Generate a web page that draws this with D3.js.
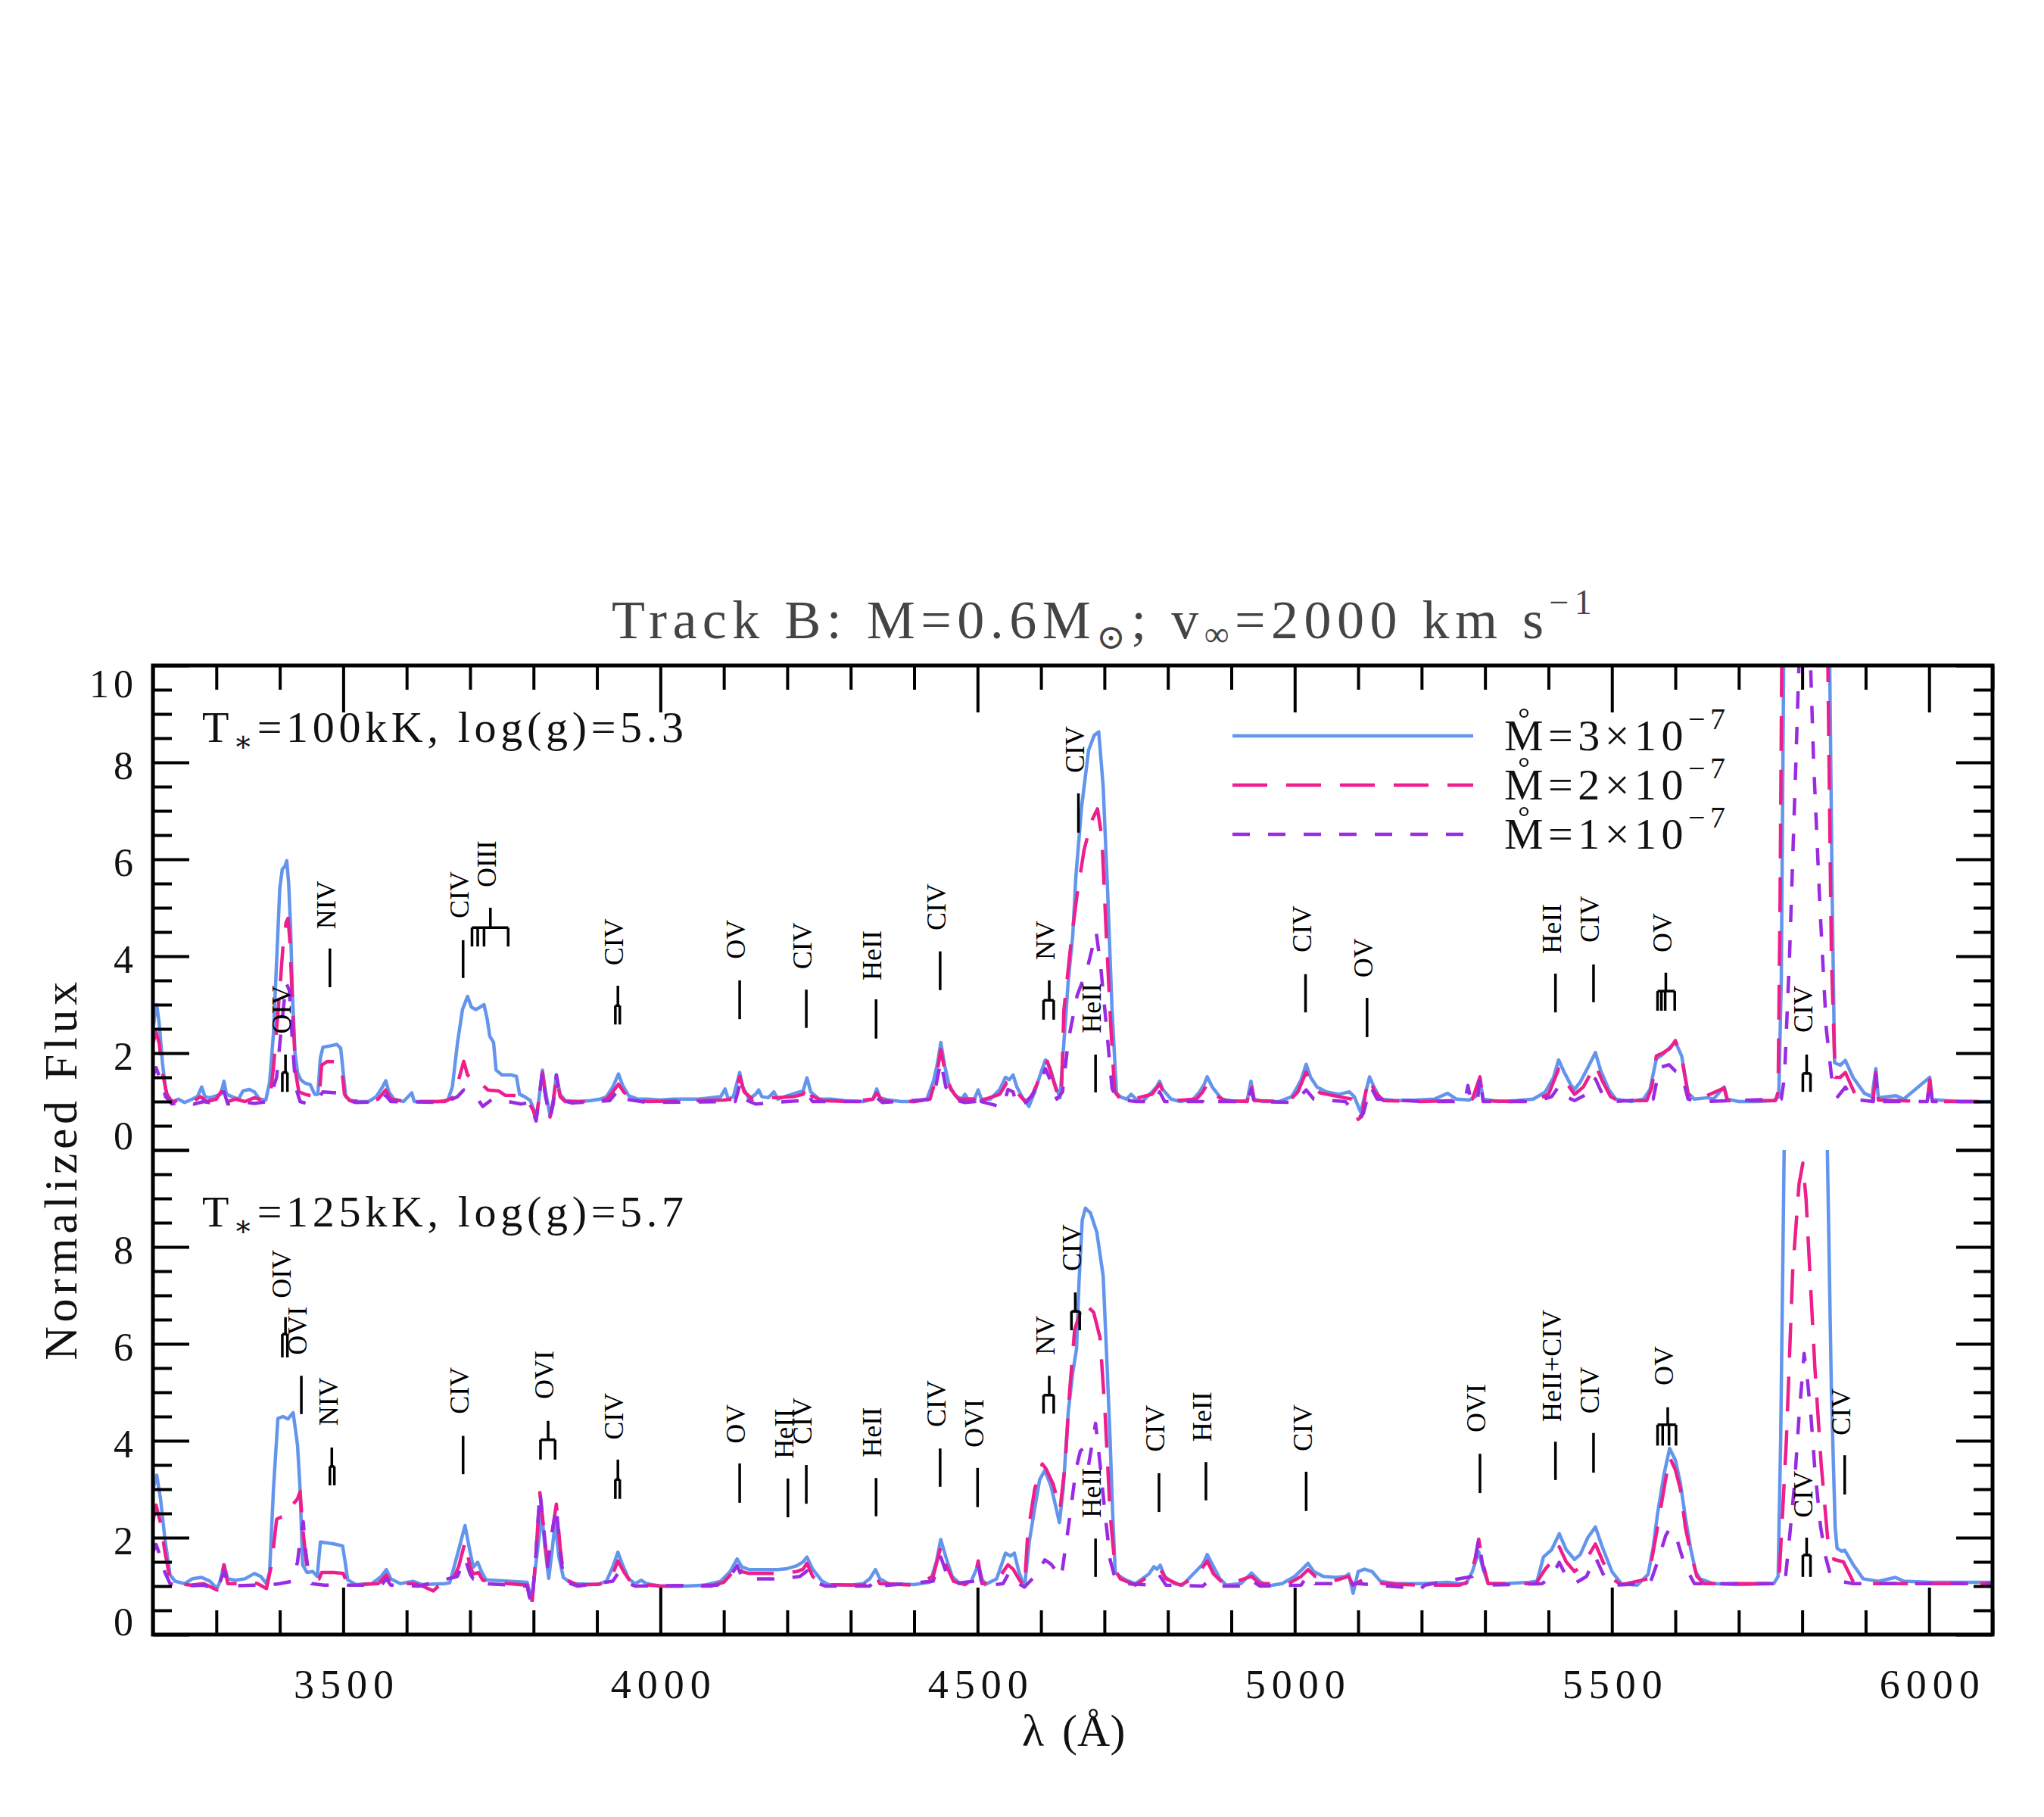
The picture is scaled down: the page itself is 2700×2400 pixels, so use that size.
<!DOCTYPE html>
<html>
<head>
<meta charset="utf-8">
<script src="https://cdn.jsdelivr.net/npm/d3@7"></script>
<style>
  body { margin: 0; background: #fff; }
  text { font-family: "Liberation Serif", "DejaVu Serif", serif; }
</style>
</head>
<body>
<div id="chart"></div>
<script>
// ---- data: [wavelength (A), normalized flux] ----
var top3 = [[3200,2.45],[3203,2.8],[3206,3.0],[3210,2.6],[3215,1.8],[3220,1.25],[3225,1.05],[3232,1.0],[3240,1.05],[3250,0.98],[3262,1.05],[3270,1.1],[3277,1.3],[3282,1.1],[3290,1.08],[3300,1.12],[3307,1.15],[3312,1.42],[3316,1.15],[3325,1.1],[3335,1.05],[3342,1.22],[3352,1.25],[3360,1.2],[3368,1.05],[3378,1.03],[3384,1.4],[3390,2.4],[3395,3.9],[3400,5.4],[3404,5.8],[3408,5.85],[3411,5.97],[3414,5.5],[3417,4.6],[3420,3.2],[3424,2.0],[3428,1.6],[3433,1.45],[3440,1.38],[3448,1.35],[3455,1.15],[3460,1.15],[3464,1.9],[3468,2.12],[3480,2.15],[3490,2.18],[3496,2.1],[3500,1.6],[3504,1.1],[3512,1.02],[3525,1.0],[3540,1.0],[3552,1.1],[3562,1.3],[3567,1.43],[3572,1.2],[3580,1.05],[3595,1.0],[3608,1.18],[3612,1.0],[3630,1.0],[3650,1.0],[3665,1.03],[3672,1.3],[3680,2.2],[3688,2.9],[3696,3.17],[3702,2.95],[3709,2.9],[3716,2.95],[3722,3.0],[3727,2.7],[3731,2.35],[3737,2.22],[3741,1.65],[3750,1.55],[3765,1.55],[3773,1.52],[3778,1.15],[3786,1.1],[3795,1.02],[3800,0.85],[3804,0.66],[3808,1.0],[3814,1.65],[3819,1.2],[3826,0.71],[3831,1.0],[3836,1.55],[3842,1.15],[3850,1.02],[3870,1.0],[3890,1.02],[3905,1.05],[3915,1.1],[3925,1.3],[3934,1.57],[3940,1.35],[3950,1.12],[3965,1.05],[3980,1.05],[4000,1.03],[4020,1.05],[4040,1.05],[4060,1.05],[4080,1.08],[4095,1.1],[4102,1.26],[4107,1.05],[4115,1.1],[4125,1.6],[4130,1.3],[4140,1.05],[4150,1.15],[4155,1.24],[4160,1.1],[4170,1.08],[4179,1.2],[4185,1.05],[4200,1.12],[4215,1.18],[4225,1.22],[4231,1.49],[4237,1.2],[4250,1.05],[4270,1.05],[4290,1.02],[4320,1.0],[4335,1.05],[4341,1.26],[4346,1.08],[4360,1.03],[4380,1.0],[4400,1.0],[4420,1.05],[4430,1.4],[4437,1.8],[4442,2.22],[4448,1.75],[4455,1.35],[4465,1.12],[4475,1.05],[4480,1.15],[4485,1.05],[4495,1.05],[4501,1.24],[4506,1.05],[4520,1.05],[4535,1.25],[4544,1.5],[4550,1.45],[4556,1.55],[4562,1.3],[4570,1.1],[4581,0.9],[4590,1.2],[4600,1.6],[4607,1.86],[4614,1.7],[4622,1.35],[4630,1.08],[4636,2.2],[4643,3.5],[4650,4.42],[4655,5.65],[4664,7.08],[4675,8.25],[4684,8.56],[4691,8.63],[4698,7.5],[4705,5.35],[4712,2.88],[4719,1.18],[4725,1.1],[4735,1.05],[4742,1.15],[4750,1.05],[4760,1.0],[4775,1.2],[4782,1.3],[4787,1.42],[4792,1.25],[4805,1.05],[4820,1.0],[4840,1.05],[4850,1.2],[4857,1.35],[4862,1.51],[4870,1.3],[4885,1.05],[4905,1.0],[4925,1.02],[4931,1.42],[4936,1.05],[4950,1.0],[4975,1.0],[4995,1.1],[5004,1.3],[5010,1.45],[5018,1.77],[5025,1.5],[5035,1.3],[5050,1.2],[5070,1.15],[5086,1.2],[5094,1.1],[5100,0.9],[5104,0.78],[5110,1.1],[5118,1.51],[5125,1.3],[5135,1.05],[5160,1.02],[5190,1.03],[5220,1.05],[5241,1.17],[5255,1.05],[5275,1.03],[5285,1.1],[5292,1.45],[5297,1.05],[5320,1.0],[5350,1.02],[5376,1.05],[5395,1.2],[5408,1.5],[5416,1.86],[5425,1.6],[5435,1.35],[5441,1.25],[5450,1.4],[5462,1.7],[5474,2.01],[5482,1.65],[5495,1.25],[5506,1.05],[5530,1.0],[5550,1.05],[5560,1.25],[5570,1.88],[5580,1.97],[5590,2.1],[5600,2.23],[5610,1.94],[5620,1.18],[5630,1.05],[5652,1.08],[5660,1.05],[5677,1.3],[5682,1.05],[5700,1.0],[5730,1.0],[5755,1.02],[5763,1.1],[5767,3.5],[5771,10.5],[5843,10.5],[5847,5.5],[5851,1.8],[5860,1.75],[5868,1.85],[5880,1.5],[5898,1.17],[5910,1.1],[5916,1.68],[5920,1.08],[5948,1.12],[5960,1.05],[6001,1.5],[6005,1.04],[6050,1.0],[6100,1.0]];

var top2 = [[3200,2.2],[3205,2.43],[3210,2.2],[3215,1.6],[3222,1.15],[3230,1.0],[3245,1.02],[3260,0.98],[3275,1.1],[3285,1.0],[3300,1.05],[3312,1.3],[3318,1.0],[3330,1.05],[3345,1.0],[3360,1.08],[3375,1.02],[3385,1.1],[3390,1.7],[3395,2.5],[3400,3.3],[3405,4.2],[3410,4.7],[3413,4.78],[3416,4.3],[3420,3.0],[3425,1.6],[3430,1.2],[3440,1.15],[3455,1.1],[3462,1.1],[3466,1.75],[3475,1.83],[3490,1.82],[3497,1.75],[3502,1.15],[3510,1.02],[3530,1.0],[3555,1.05],[3567,1.24],[3575,1.05],[3600,1.0],[3625,1.0],[3660,1.0],[3675,1.1],[3683,1.5],[3690,1.83],[3696,1.55],[3703,1.45],[3710,1.47],[3720,1.34],[3728,1.24],[3745,1.22],[3755,1.13],[3780,1.12],[3790,1.05],[3800,0.8],[3804,0.62],[3808,1.0],[3814,1.6],[3819,1.1],[3826,0.68],[3831,1.0],[3836,1.5],[3842,1.1],[3850,1.0],[3900,1.0],[3915,1.05],[3925,1.2],[3934,1.36],[3942,1.2],[3955,1.05],[3980,1.0],[4050,1.02],[4100,1.03],[4115,1.05],[4125,1.52],[4132,1.2],[4145,1.05],[4160,1.1],[4180,1.08],[4210,1.1],[4225,1.15],[4231,1.36],[4238,1.12],[4255,1.02],[4300,1.0],[4335,1.05],[4341,1.18],[4350,1.02],[4400,1.0],[4425,1.05],[4435,1.5],[4442,2.07],[4449,1.6],[4458,1.25],[4470,1.05],[4496,1.05],[4501,1.24],[4506,1.02],[4535,1.15],[4546,1.39],[4556,1.4],[4565,1.15],[4575,1.0],[4585,1.1],[4598,1.5],[4610,1.83],[4618,1.5],[4626,1.15],[4632,1.08],[4636,2.88],[4648,4.36],[4657,5.28],[4668,6.2],[4680,6.8],[4689,7.04],[4696,6.45],[4703,4.42],[4710,2.57],[4716,1.21],[4725,1.05],[4745,1.05],[4775,1.15],[4787,1.36],[4795,1.15],[4810,1.02],[4845,1.05],[4855,1.2],[4862,1.36],[4872,1.15],[4890,1.02],[4925,1.0],[4931,1.39],[4936,1.02],[4990,1.0],[5005,1.2],[5018,1.61],[5026,1.35],[5040,1.18],[5070,1.1],[5090,1.05],[5100,0.63],[5106,0.7],[5112,1.2],[5118,1.48],[5126,1.2],[5140,1.02],[5200,1.0],[5250,1.02],[5280,1.05],[5292,1.51],[5297,1.02],[5340,1.0],[5380,1.03],[5400,1.15],[5416,1.67],[5425,1.45],[5441,1.15],[5455,1.3],[5474,1.76],[5484,1.45],[5498,1.1],[5510,1.02],[5555,1.02],[5563,1.3],[5570,1.94],[5580,2.0],[5592,2.1],[5600,2.26],[5610,1.9],[5620,1.15],[5632,1.02],[5677,1.28],[5682,1.02],[5758,1.02],[5762,1.2],[5765,5.0],[5768,10.5],[5840,10.5],[5846,4.0],[5852,1.5],[5860,1.5],[5868,1.6],[5885,1.1],[5912,1.05],[5916,1.6],[5920,1.03],[5997,1.0],[6001,1.45],[6005,1.0],[6100,1.0]];

var top1 = [[3200,1.52],[3205,1.7],[3212,1.45],[3220,1.1],[3230,0.95],[3250,1.0],[3265,0.95],[3280,1.0],[3300,0.95],[3312,1.2],[3318,0.95],[3340,1.0],[3360,0.96],[3380,1.0],[3390,1.3],[3395,1.5],[3403,2.6],[3410,3.45],[3415,3.3],[3420,2.2],[3425,1.3],[3432,1.0],[3445,0.95],[3460,1.05],[3468,1.2],[3490,1.18],[3500,1.05],[3520,0.98],[3560,1.0],[3567,1.13],[3575,1.0],[3660,0.98],[3680,1.1],[3690,1.24],[3700,1.12],[3712,1.05],[3720,0.9],[3735,1.05],[3760,1.0],[3780,0.95],[3795,0.98],[3800,0.75],[3804,0.6],[3808,1.0],[3814,1.62],[3819,1.1],[3826,0.65],[3831,0.95],[3836,1.55],[3842,1.05],[3860,0.97],[3920,1.02],[3934,1.24],[3945,1.05],[3980,0.98],[4100,1.0],[4118,1.0],[4125,1.34],[4132,1.05],[4150,0.95],[4200,1.0],[4225,1.02],[4231,1.17],[4240,1.0],[4300,1.0],[4335,1.0],[4341,1.08],[4350,0.98],[4430,1.05],[4442,1.83],[4450,1.3],[4460,1.05],[4480,0.98],[4496,1.0],[4501,1.2],[4506,1.0],[4540,0.88],[4548,1.25],[4556,1.2],[4562,0.9],[4578,1.0],[4595,1.3],[4607,1.68],[4616,1.4],[4625,1.05],[4634,1.2],[4643,2.26],[4657,3.19],[4673,3.75],[4687,4.5],[4694,3.8],[4703,2.57],[4712,1.27],[4720,1.05],[4750,1.0],[4780,1.0],[4787,1.2],[4795,1.0],[4855,1.0],[4862,0.9],[4870,1.0],[4925,1.0],[4931,1.25],[4936,1.0],[5000,0.98],[5018,1.24],[5030,1.05],[5080,1.0],[5100,0.66],[5108,0.75],[5115,1.1],[5120,1.3],[5130,1.05],[5200,1.0],[5268,1.0],[5273,1.33],[5278,1.0],[5288,1.0],[5292,1.51],[5297,1.0],[5380,1.0],[5405,1.1],[5416,1.31],[5428,1.1],[5441,1.02],[5460,1.15],[5474,1.47],[5485,1.15],[5500,1.0],[5565,1.05],[5575,1.7],[5590,1.76],[5600,1.63],[5610,1.57],[5620,1.05],[5640,1.0],[5767,1.05],[5772,1.5],[5780,4.0],[5790,8.0],[5796,10.5],[5812,10.5],[5818,8.0],[5828,5.0],[5838,2.5],[5848,1.3],[5856,1.1],[5868,1.3],[5880,1.05],[5912,1.0],[5916,1.55],[5920,1.0],[5997,1.0],[6001,1.4],[6005,1.0],[6100,1.0]];

var bot3 = [[3200,2.99],[3206,3.29],[3212,2.8],[3219,1.96],[3227,1.23],[3235,1.1],[3250,1.05],[3262,1.15],[3277,1.18],[3290,1.1],[3301,0.95],[3306,1.1],[3312,1.44],[3318,1.15],[3330,1.12],[3345,1.15],[3360,1.26],[3370,1.2],[3379,1.05],[3384,1.3],[3390,3.0],[3397,4.46],[3405,4.5],[3413,4.45],[3421,4.58],[3425,4.2],[3428,3.9],[3432,3.0],[3436,1.44],[3443,1.28],[3452,1.3],[3459,1.2],[3464,1.91],[3470,1.9],[3485,1.87],[3499,1.83],[3503,1.5],[3507,1.13],[3520,1.03],[3545,1.05],[3560,1.2],[3568,1.34],[3575,1.15],[3590,1.05],[3610,1.1],[3625,1.03],[3660,1.05],[3668,1.07],[3680,1.65],[3692,2.25],[3700,1.7],[3705,1.39],[3712,1.49],[3718,1.3],[3725,1.13],[3760,1.1],[3790,1.08],[3797,0.71],[3805,1.6],[3813,2.49],[3818,1.8],[3824,1.16],[3829,1.7],[3834,2.31],[3840,1.6],[3847,1.18],[3860,1.05],[3900,1.03],[3915,1.1],[3925,1.4],[3933,1.7],[3940,1.45],[3950,1.15],[3960,1.05],[3970,1.12],[3978,1.05],[4000,1.0],[4040,1.0],[4070,1.02],[4095,1.1],[4110,1.3],[4121,1.56],[4128,1.4],[4140,1.34],[4160,1.34],[4185,1.34],[4200,1.36],[4215,1.42],[4225,1.5],[4231,1.6],[4240,1.35],[4255,1.1],[4265,1.03],[4300,1.02],[4320,1.05],[4330,1.15],[4339,1.34],[4346,1.15],[4360,1.05],[4400,1.03],[4425,1.08],[4435,1.5],[4442,1.96],[4450,1.6],[4460,1.2],[4472,1.05],[4490,1.1],[4501,1.44],[4507,1.15],[4512,1.03],[4530,1.15],[4544,1.68],[4552,1.62],[4558,1.68],[4565,1.3],[4574,0.98],[4582,1.96],[4590,2.6],[4598,3.2],[4606,3.39],[4616,3.05],[4624,2.6],[4629,2.31],[4635,3.0],[4643,4.6],[4650,5.4],[4656,5.9],[4660,7.3],[4665,8.55],[4670,8.8],[4678,8.7],[4688,8.3],[4698,7.4],[4704,5.6],[4709,4.0],[4713,2.5],[4717,1.3],[4722,1.22],[4735,1.12],[4749,1.05],[4770,1.25],[4778,1.4],[4783,1.35],[4788,1.43],[4795,1.2],[4810,1.05],[4823,1.02],[4840,1.25],[4855,1.45],[4862,1.65],[4870,1.45],[4882,1.15],[4892,1.02],[4915,1.05],[4932,1.27],[4945,1.1],[4956,1.0],[4980,1.05],[5000,1.2],[5012,1.35],[5021,1.47],[5030,1.3],[5045,1.2],[5065,1.18],[5080,1.2],[5085,1.25],[5092,0.85],[5100,1.3],[5110,1.35],[5122,1.3],[5135,1.1],[5160,1.05],[5200,1.05],[5240,1.08],[5260,1.05],[5270,1.05],[5280,1.3],[5290,1.71],[5297,1.35],[5305,1.05],[5330,1.05],[5370,1.08],[5382,1.1],[5392,1.6],[5405,1.75],[5417,2.08],[5428,1.75],[5441,1.55],[5450,1.65],[5462,2.0],[5474,2.22],[5485,1.8],[5500,1.3],[5515,1.05],[5540,1.02],[5557,1.24],[5565,1.8],[5572,2.5],[5582,3.3],[5591,3.84],[5600,3.6],[5608,3.12],[5616,2.4],[5624,1.78],[5632,1.3],[5639,1.15],[5660,1.05],[5700,1.03],[5755,1.05],[5762,1.2],[5766,4.0],[5772,10.5],[5839,10.5],[5846,5.0],[5852,2.2],[5855,1.78],[5862,1.72],[5867,1.74],[5880,1.45],[5896,1.15],[5920,1.1],[5947,1.18],[5960,1.1],[6000,1.08],[6050,1.08],[6100,1.08]];

var bot2 = [[3200,2.33],[3205,2.67],[3212,2.3],[3219,1.7],[3227,1.15],[3240,1.05],[3260,1.02],[3280,1.05],[3301,0.92],[3306,1.05],[3312,1.44],[3318,1.05],[3335,1.05],[3350,1.1],[3365,1.05],[3379,0.95],[3387,1.44],[3395,2.38],[3403,2.43],[3411,2.45],[3421,2.69],[3428,2.8],[3432,2.95],[3436,2.22],[3443,1.34],[3452,1.2],[3462,1.15],[3466,1.28],[3485,1.28],[3500,1.26],[3505,1.1],[3520,1.03],[3555,1.05],[3568,1.23],[3575,1.05],[3610,1.05],[3625,1.0],[3642,0.9],[3650,1.0],[3670,1.05],[3682,1.4],[3692,1.91],[3700,1.4],[3705,1.25],[3713,1.28],[3720,1.12],[3760,1.05],[3790,1.02],[3797,0.53],[3803,1.5],[3810,2.93],[3816,2.2],[3822,1.44],[3828,2.0],[3836,2.69],[3842,1.8],[3848,1.15],[3870,1.02],[3915,1.05],[3925,1.25],[3933,1.52],[3942,1.3],[3955,1.05],[4000,1.0],[4080,1.0],[4100,1.08],[4115,1.3],[4121,1.47],[4128,1.3],[4140,1.26],[4190,1.26],[4215,1.3],[4225,1.35],[4231,1.47],[4240,1.2],[4258,1.03],[4320,1.02],[4332,1.1],[4339,1.23],[4346,1.05],[4400,1.02],[4430,1.2],[4442,1.81],[4450,1.45],[4462,1.1],[4480,1.03],[4495,1.15],[4501,1.52],[4507,1.05],[4530,1.1],[4548,1.44],[4556,1.35],[4565,1.15],[4574,0.98],[4579,2.07],[4590,3.0],[4602,3.52],[4608,3.42],[4619,3.11],[4630,2.59],[4638,3.5],[4645,5.0],[4653,6.29],[4667,6.86],[4675,6.75],[4683,6.65],[4693,6.13],[4701,4.57],[4709,2.49],[4717,1.34],[4725,1.15],[4749,1.02],[4775,1.25],[4788,1.35],[4797,1.15],[4820,1.02],[4845,1.2],[4862,1.52],[4872,1.25],[4890,1.02],[4932,1.2],[4945,1.05],[4990,1.05],[5010,1.2],[5021,1.34],[5032,1.2],[5060,1.1],[5085,1.2],[5092,1.02],[5110,1.15],[5140,1.05],[5200,1.02],[5260,1.02],[5275,1.1],[5285,1.6],[5290,1.97],[5296,1.5],[5305,1.05],[5380,1.05],[5395,1.35],[5405,1.5],[5417,1.81],[5428,1.5],[5441,1.3],[5455,1.45],[5474,1.87],[5486,1.5],[5500,1.15],[5515,1.03],[5557,1.15],[5565,1.7],[5572,2.22],[5582,3.0],[5591,3.66],[5600,3.4],[5608,3.0],[5616,2.2],[5624,1.7],[5634,1.2],[5645,1.05],[5760,1.05],[5764,1.3],[5767,2.0],[5775,4.0],[5785,7.5],[5795,9.3],[5801,9.73],[5806,9.0],[5812,7.5],[5820,5.5],[5830,3.5],[5840,2.0],[5850,1.55],[5865,1.5],[5880,1.1],[5900,1.05],[6100,1.05]];

var bot1 = [[3200,1.7],[3205,1.86],[3212,1.6],[3219,1.28],[3227,1.05],[3250,1.0],[3280,1.02],[3301,0.92],[3312,1.3],[3320,1.0],[3360,1.02],[3380,1.02],[3400,1.05],[3420,1.1],[3428,1.5],[3432,1.96],[3437,2.33],[3441,1.7],[3445,1.3],[3450,1.05],[3470,1.02],[3500,1.02],[3560,1.02],[3568,1.15],[3575,1.02],[3620,1.0],[3680,1.2],[3692,1.57],[3700,1.25],[3705,1.15],[3715,1.2],[3725,1.05],[3790,1.0],[3797,0.6],[3803,1.5],[3810,2.96],[3816,2.2],[3822,1.4],[3828,2.0],[3836,2.64],[3842,1.7],[3848,1.1],[3870,1.0],[3925,1.1],[3933,1.26],[3942,1.1],[3960,1.0],[4090,1.02],[4110,1.2],[4121,1.42],[4128,1.2],[4140,1.15],[4190,1.15],[4220,1.2],[4231,1.31],[4240,1.1],[4260,1.0],[4330,1.0],[4339,1.12],[4346,1.0],[4430,1.1],[4442,1.6],[4450,1.3],[4462,1.05],[4495,1.1],[4501,1.45],[4507,1.0],[4540,1.05],[4550,1.28],[4558,1.2],[4565,1.05],[4574,0.98],[4590,1.2],[4606,1.54],[4616,1.45],[4625,1.3],[4632,1.18],[4646,2.49],[4655,3.4],[4662,3.79],[4667,3.84],[4675,3.5],[4686,4.36],[4693,3.53],[4701,2.49],[4709,1.54],[4717,1.15],[4730,1.05],[4780,1.02],[4788,1.2],[4797,1.02],[4855,1.0],[4862,1.08],[4870,1.0],[4925,1.0],[4932,1.12],[4945,1.0],[5010,1.02],[5021,1.23],[5032,1.05],[5100,1.05],[5199,0.95],[5205,1.02],[5280,1.2],[5290,1.97],[5296,1.45],[5305,1.02],[5390,1.05],[5405,1.2],[5417,1.49],[5428,1.2],[5441,1.05],[5460,1.2],[5474,1.6],[5486,1.25],[5500,1.02],[5560,1.05],[5572,1.5],[5585,2.05],[5591,2.18],[5600,2.07],[5615,1.42],[5630,1.05],[5770,1.05],[5773,1.1],[5780,2.0],[5788,3.12],[5795,4.5],[5803,5.8],[5808,5.3],[5814,4.47],[5820,3.4],[5829,2.22],[5837,1.6],[5845,1.2],[5860,1.1],[5880,1.05],[6100,1.05]];

// line identifications: text, wavelength, flux of text start, line top, [bar], line bottom, [comb]
var topIds = [
  { t: "OIV", lam: 3409, ft: 2.4, f1: 1.97, bar: 1.6, f0: 1.2, comb: [3404, 3412] },
  { t: "NIV", lam: 3479, ft: 4.56, f1: 4.16, f0: 3.36 },
  { t: "CIV", lam: 3689, ft: 4.78, f1: 4.33, f0: 3.55 },
  { t: "OIII", lam: 3732, ft: 5.42, f1: 5.0, bar: 4.59, f0: 4.2, comb: [3703, 3712, 3722, 3760] },
  { t: "CIV", lam: 3933, ft: 3.81, f1: 3.39, bar: 2.98, f0: 2.59, comb: [3929, 3936] },
  { t: "OV", lam: 4125, ft: 3.94, f1: 3.5, f0: 2.7 },
  { t: "CIV", lam: 4230, ft: 3.73, f1: 3.31, f0: 2.52 },
  { t: "HeII", lam: 4340, ft: 3.5, f1: 3.11, f0: 2.3 },
  { t: "CIV", lam: 4441, ft: 4.53, f1: 4.1, f0: 3.3 },
  { t: "NV", lam: 4613, ft: 3.92, f1: 3.5, bar: 3.09, f0: 2.69, comb: [4604, 4620] },
  { t: "HeII", lam: 4686, ft: 2.41, f1: 1.97, f0: 1.19 },
  { t: "CIV", lam: 4659, ft: 7.78, f1: 7.36, f0: 6.55 },
  { t: "CIV", lam: 5017, ft: 4.08, f1: 3.63, f0: 2.84 },
  { t: "OV", lam: 5114, ft: 3.56, f1: 3.14, f0: 2.33 },
  { t: "HeII", lam: 5411, ft: 4.05, f1: 3.64, f0: 2.84 },
  { t: "CIV", lam: 5471, ft: 4.28, f1: 3.83, f0: 3.05 },
  { t: "OV", lam: 5585, ft: 4.08, f1: 3.66, bar: 3.28, f0: 2.875, comb: [5572, 5578, 5584, 5599] },
  { t: "CIV", lam: 5807, ft: 2.42, f1: 1.97, bar: 1.58, f0: 1.2, comb: [5801, 5813] }
];
var botIds = [
  { t: "OIV", lam: 3409, ft: 6.94, f1: 6.55, bar: 6.2, f0: 5.72, comb: [3404, 3412] },
  { t: "OVI", lam: 3434, ft: 5.77, f1: 5.34, f0: 4.55 },
  { t: "NIV", lam: 3482, ft: 4.31, f1: 3.86, bar: 3.47, f0: 3.08, comb: [3479, 3486] },
  { t: "CIV", lam: 3689, ft: 4.55, f1: 4.1, f0: 3.31 },
  { t: "OVI", lam: 3823, ft: 4.86, f1: 4.41, bar: 4.02, f0: 3.61, comb: [3811, 3834] },
  { t: "CIV", lam: 3933, ft: 4.02, f1: 3.61, bar: 3.2, f0: 2.8, comb: [3929, 3936] },
  { t: "OV", lam: 4125, ft: 3.94, f1: 3.53, f0: 2.72 },
  { t: "HeII", lam: 4201, ft: 3.63, f1: 3.22, f0: 2.42 },
  { t: "CIV", lam: 4230, ft: 3.92, f1: 3.5, f0: 2.7 },
  { t: "HeII", lam: 4340, ft: 3.66, f1: 3.23, f0: 2.44 },
  { t: "CIV", lam: 4441, ft: 4.28, f1: 3.84, f0: 3.05 },
  { t: "OVI", lam: 4500, ft: 3.86, f1: 3.44, f0: 2.63 },
  { t: "NV", lam: 4613, ft: 5.77, f1: 5.34, bar: 4.94, f0: 4.56, comb: [4604, 4620] },
  { t: "CIV", lam: 4654, ft: 7.5, f1: 7.06, bar: 6.67, f0: 6.28, comb: [4648, 4661] },
  { t: "HeII", lam: 4686, ft: 2.41, f1: 1.98, f0: 1.19 },
  { t: "CIV", lam: 4786, ft: 3.77, f1: 3.33, f0: 2.53 },
  { t: "HeII", lam: 4860, ft: 3.98, f1: 3.56, f0: 2.77 },
  { t: "CIV", lam: 5018, ft: 3.78, f1: 3.36, f0: 2.55 },
  { t: "OVI", lam: 5292, ft: 4.17, f1: 3.73, f0: 2.92 },
  { t: "HeII+CIV", lam: 5411, ft: 4.39, f1: 3.98, f0: 3.19 },
  { t: "CIV", lam: 5471, ft: 4.56, f1: 4.16, f0: 3.34 },
  { t: "OV", lam: 5588, ft: 5.14, f1: 4.69, bar: 4.33, f0: 3.9, comb: [5572, 5580, 5590, 5601] },
  { t: "CIV", lam: 5807, ft: 2.41, f1: 2.0, bar: 1.64, f0: 1.19, comb: [5801, 5813] },
  { t: "CIV", lam: 5867, ft: 4.11, f1: 3.7, f0: 2.89 }
];

var xMajor = [3500, 4000, 4500, 5000, 5500, 6000];
var yLabelsTop = [0, 2, 4, 6, 8, 10];
var yLabelsBot = [0, 2, 4, 6, 8];
var legendText = ["3", "2", "1"];

var colors = ["#6495ED", "#EE1E8C", "#9A2BE2"];
var dashes = [null, "46,25", "23,24"];

// ---- layout ----
var W = 2700, H = 2400;
var L = 202, R = 2632, T = 879, M = 1519, B = 2159;

var svg = d3.select("#chart").append("svg")
    .attr("width", W).attr("height", H)
    .style("background", "#fff");

var x = d3.scaleLinear().domain([3200, 6100]).range([L, R]);
var yTop = d3.scaleLinear().domain([0, 10]).range([M, T]);
var yBot = d3.scaleLinear().domain([0, 10]).range([B, M]);

function fit(sel, width) {
    var n = sel.text().length;
    var w = sel.node().getComputedTextLength();
    sel.attr("letter-spacing", ((width - w) / (n - 1)).toFixed(2));
}

var defs = svg.append("defs");
defs.append("clipPath").attr("id", "clipTop").append("rect")
    .attr("x", L).attr("y", T).attr("width", R - L).attr("height", M - T);
defs.append("clipPath").attr("id", "clipBot").append("rect")
    .attr("x", L).attr("y", M).attr("width", R - L).attr("height", B - M);

// spectra
function drawPanel(series, y, clip) {
    var line = d3.line().x(function (d) { return x(d[0]); }).y(function (d) { return y(d[1]); });
    var g = svg.append("g").attr("clip-path", "url(#" + clip + ")");
    series.forEach(function (s, i) {
        g.append("path")
            .attr("d", line(s))
            .attr("fill", "none")
            .attr("stroke", colors[i])
            .attr("stroke-width", 4.5)
            .attr("stroke-linejoin", "round")
            .attr("stroke-dasharray", dashes[i]);
    });
}
drawPanel([top3, top2, top1], yTop, "clipTop");
drawPanel([bot3, bot2, bot1], yBot, "clipBot");

// line identifications
function drawIds(ids, y) {
    var g = svg.append("g").attr("stroke", "#000").attr("stroke-width", 3.5);
    ids.forEach(function (d) {
        var xs = x(d.lam);
        if (d.comb) {
            g.append("line").attr("x1", xs).attr("x2", xs).attr("y1", y(d.f1)).attr("y2", y(d.bar));
            g.append("line")
                .attr("x1", x(d3.min(d.comb))).attr("x2", x(d3.max(d.comb)))
                .attr("y1", y(d.bar)).attr("y2", y(d.bar));
            d.comb.forEach(function (c) {
                g.append("line").attr("x1", x(c)).attr("x2", x(c)).attr("y1", y(d.bar)).attr("y2", y(d.f0));
            });
        } else {
            g.append("line").attr("x1", xs).attr("x2", xs).attr("y1", y(d.f1)).attr("y2", y(d.f0));
        }
        var tx = xs - 5, ty = y(d.ft);
        svg.append("text")
            .attr("transform", "translate(" + tx + "," + ty + ") rotate(-90)")
            .attr("dy", "0.34em")
            .attr("font-size", 36)
            .attr("fill", "#000")
            .text(d.t);
    });
}
drawIds(topIds, yTop);
drawIds(botIds, yBot);

// frame
svg.append("rect")
    .attr("x", L).attr("y", T).attr("width", R - L).attr("height", B - T)
    .attr("fill", "none").attr("stroke", "#000").attr("stroke-width", 5);

// x axes (bottom and top), ticks pointing inwards
var xMinor = d3.range(3200, 6101, 100).filter(function (v) { return xMajor.indexOf(v) < 0; });

function tickStyle(g) {
    g.select(".domain").remove();
    g.selectAll(".tick line").attr("stroke", "#000").attr("stroke-width", 4);
}

svg.append("g").attr("transform", "translate(0," + B + ")")
    .call(d3.axisBottom(x).tickValues(xMinor).tickSize(-32).tickFormat(""))
    .call(tickStyle);
var xb = svg.append("g").attr("transform", "translate(0," + B + ")")
    .call(d3.axisBottom(x).tickValues(xMajor).tickSize(-62).tickPadding(0).tickFormat(d3.format("d")))
    .call(tickStyle);
xb.selectAll(".tick text")
    .attr("y", 84).attr("dy", 0)
    .attr("font-size", 54).attr("font-family", "Liberation Serif")
    .attr("fill", "#111").attr("letter-spacing", 8).attr("dx", 4);

svg.append("g").attr("transform", "translate(0," + T + ")")
    .call(d3.axisTop(x).tickValues(xMinor).tickSize(-32).tickFormat(""))
    .call(tickStyle);
svg.append("g").attr("transform", "translate(0," + T + ")")
    .call(d3.axisTop(x).tickValues(xMajor).tickSize(-62).tickFormat(""))
    .call(tickStyle);

// y axes: each panel spans flux 0..10
var yMinor = d3.range(0, 10.01, 0.5).filter(function (v) { return v % 2 !== 0; });
var yMajor = [0, 2, 4, 6, 8, 10];

[yTop, yBot].forEach(function (y) {
    svg.append("g").attr("transform", "translate(" + L + ",0)")
        .call(d3.axisLeft(y).tickValues(yMinor).tickSize(-25).tickFormat(""))
        .call(tickStyle);
    svg.append("g").attr("transform", "translate(" + L + ",0)")
        .call(d3.axisLeft(y).tickValues(yMajor).tickSize(-48).tickFormat(""))
        .call(tickStyle);
    svg.append("g").attr("transform", "translate(" + R + ",0)")
        .call(d3.axisRight(y).tickValues(yMinor).tickSize(-25).tickFormat(""))
        .call(tickStyle);
    svg.append("g").attr("transform", "translate(" + R + ",0)")
        .call(d3.axisRight(y).tickValues(yMajor).tickSize(-48).tickFormat(""))
        .call(tickStyle);
});

// y tick labels (edge labels nudged inside like the original)
function yLabels(vals, y, nudge) {
    vals.forEach(function (v) {
        var off = nudge[v] || 5;
        svg.append("text")
            .attr("x", L - 20).attr("y", y(v) + off)
            .attr("dy", "0.33em")
            .attr("text-anchor", "end")
            .attr("font-size", 52)
            .attr("letter-spacing", 6)
            .attr("fill", "#111")
            .text(v);
    });
}
yLabels(yLabelsTop, yTop, { 0: -18, 10: 25 });
yLabels(yLabelsBot, yBot, { 0: -16 });

// axis titles
var xt = svg.append("text")
    .attr("x", 1350).attr("y", 2306)
    .attr("font-size", 60).attr("fill", "#111");
xt.append("tspan").text("\u03BB");
xt.append("tspan").attr("dx", 24).text("(\u00C5)");

var yt = svg.append("text")
    .attr("transform", "translate(80,1544) rotate(-90)")
    .attr("text-anchor", "middle")
    .attr("dy", "0.34em")
    .attr("font-size", 62).attr("fill", "#111")
    .text("Normalized Flux");
fit(yt, 500);

// title
var title = svg.append("text")
    .attr("x", 808).attr("y", 843)
    .attr("font-size", 72).attr("fill", "#444");
title.append("tspan").text("Track B: M=0.6M");
title.append("tspan").attr("font-size", 46).attr("dy", 14).text("\u2299");
title.append("tspan").attr("dy", -14).text("; v");
title.append("tspan").attr("font-size", 46).attr("dy", 10).text("\u221E");
title.append("tspan").attr("dy", -10).text("=2000 km s");
title.append("tspan").attr("font-size", 46).attr("dy", -32).text("\u22121");
fit(title, 1295);

// panel labels
function panelLabel(y, teff, logg) {
    var t = svg.append("text").attr("x", 267).attr("y", y)
        .attr("font-size", 58).attr("fill", "#111");
    t.append("tspan").text("T");
    t.append("tspan").attr("font-size", 38).attr("dy", 12).text("\u2217");
    t.append("tspan").attr("dy", -12).text("=" + teff + "kK, log(g)=" + logg);
    fit(t, 636);
}
panelLabel(980, 100, "5.3");
panelLabel(1620, 125, "5.7");

// legend
var legY = [972, 1037, 1102];
legendText.forEach(function (v, i) {
    svg.append("line")
        .attr("x1", 1628).attr("x2", 1946)
        .attr("y1", legY[i]).attr("y2", legY[i])
        .attr("stroke", colors[i]).attr("stroke-width", 4.5)
        .attr("stroke-dasharray", dashes[i]);
    var base = legY[i] + 19;
    var t = svg.append("text")
        .attr("x", 1987).attr("y", base)
        .attr("font-size", 58).attr("fill", "#111");
    t.append("tspan").text("M=" + v + "\u00D710");
    t.append("tspan").attr("font-size", 40).attr("dy", -28).text("\u22127");
    fit(t, 292);
    // ring over the M (mass-loss rate dot)
    var mw = t.node().getSubStringLength(0, 1);
    svg.append("circle")
        .attr("cx", 1987 + mw / 2 - 3).attr("cy", base - 49)
        .attr("r", 5)
        .attr("fill", "none").attr("stroke", "#111").attr("stroke-width", 2.2);
});
</script>
</body>
</html>
